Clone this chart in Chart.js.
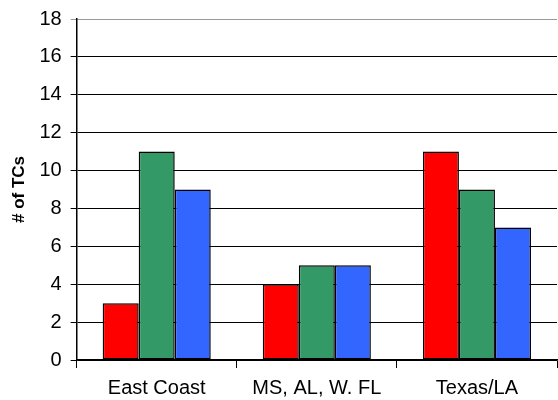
<!DOCTYPE html>
<html>
<head>
<meta charset="utf-8">
<script src="https://cdn.jsdelivr.net/npm/chart.js@4/dist/chart.umd.min.js"></script>
<style>
  html, body { margin: 0; padding: 0; background: #fff; }
  #wrap { width: 558px; height: 400px; position: relative; }
</style>
</head>
<body>
<div id="wrap"><canvas id="tcChart" width="558" height="400"></canvas></div>
<script>
const regions = ['East Coast', 'MS, AL, W. FL', 'Texas/LA'];
const redSeries = [3, 4, 11];
const greenSeries = [11, 5, 9];
const blueSeries = [9, 5, 7];
const yTicks = [0, 2, 4, 6, 8, 10, 12, 14, 16, 18];

function series(values, color) {
  return {
    data: values,
    backgroundColor: color,
    borderColor: '#000',
    borderWidth: 1.5,
    borderSkipped: false,
    barPercentage: 1,
    categoryPercentage: 0.675
  };
}

const ctx = document.getElementById('tcChart').getContext('2d');
new Chart(ctx, {
  type: 'bar',
  data: {
    labels: regions,
    datasets: [
      series(redSeries, '#ff0000'),
      series(greenSeries, '#339966'),
      series(blueSeries, '#3366ff')
    ]
  },
  options: {
    responsive: false,
    animation: false,
    layout: { padding: { top: 0, right: 1, left: 9, bottom: -8 } },
    plugins: {
      legend: { display: false },
      tooltip: { enabled: false }
    },
    scales: {
      x: {
        grid: {
          offset: true,
          drawOnChartArea: false,
          drawTicks: true,
          tickLength: 8,
          color: '#000'
        },
        border: { color: '#000', width: 1.5 },
        ticks: {
          color: '#000',
          padding: 8,
          font: { family: 'Liberation Sans', size: 20 }
        }
      },
      y: {
        min: 0,
        max: 18,
        afterBuildTicks: function (axis) {
          axis.ticks = yTicks.map(v => ({ value: v }));
        },
        grid: {
          color: function (c) { return c.tick && c.tick.value === 18 ? '#999' : '#000'; },
          lineWidth: 1,
          tickLength: 6
        },
        border: { color: '#000', width: 1.5 },
        ticks: {
          color: '#000',
          padding: 9,
          font: { family: 'Liberation Sans', size: 20, lineHeight: 1.0 }
        },
        title: {
          display: true,
          text: '# of TCs',
          color: '#000',
          padding: { top: 0, bottom: 1 },
          font: { family: 'Liberation Sans', size: 17, weight: 'bold' }
        }
      }
    }
  }
});
</script>
</body>
</html>
